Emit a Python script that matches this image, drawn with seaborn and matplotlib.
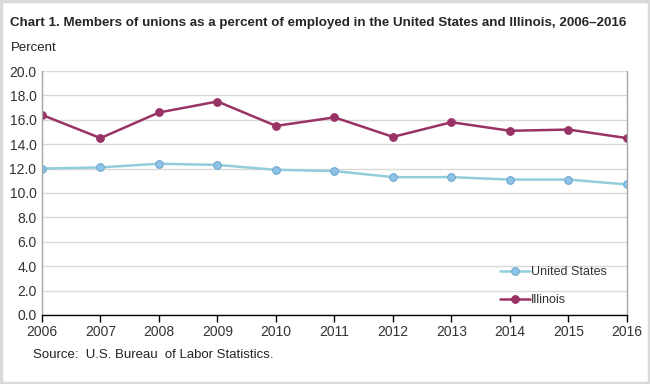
import pandas as pd
import matplotlib.pyplot as plt
import seaborn as sns
from matplotlib.patches import Rectangle

years = [2006, 2007, 2008, 2009, 2010, 2011, 2012, 2013, 2014, 2015, 2016]
us_rate = [12.0, 12.1, 12.4, 12.3, 11.9, 11.8, 11.3, 11.3, 11.1, 11.1, 10.7]
il_rate = [16.4, 14.5, 16.6, 17.5, 15.5, 16.2, 14.6, 15.8, 15.1, 15.2, 14.5]

df = pd.DataFrame({
    "Year": years * 2,
    "Rate": us_rate + il_rate,
    "Area": ["United States"] * len(years) + ["Illinois"] * len(years),
})

sns.set_style("white")
plt.rcParams['font.family'] = ['Liberation Sans', 'DejaVu Sans']

fig = plt.figure(figsize=(6.5, 3.84), dpi=100)
ax = fig.add_axes([0.0646, 0.1797, 0.9, 0.6354])

# outer light grey border
fig.patches.append(Rectangle((0.002, 0.003), 0.996, 0.994, transform=fig.transFigure,
                             fill=False, edgecolor="#d9d9d9", linewidth=2.5))

palette = {"United States": "#92cddc", "Illinois": "#993366"}
marker_face = {"United States": "#8ec3e6", "Illinois": "#993366"}

for area in ["United States", "Illinois"]:
    sub = df[df["Area"] == area]
    sns.lineplot(data=sub, x="Year", y="Rate", ax=ax, color=palette[area],
                 linewidth=1.8, marker="o", markersize=5.5,
                 markerfacecolor=marker_face[area],
                 markeredgecolor="#6fa8d0" if area == "United States" else "#993366",
                 markeredgewidth=0.8, label=area)

ax.set_xlim(2006, 2016)
ax.set_ylim(0, 20)
ax.set_xticks(years)
ax.set_xticklabels([str(y) for y in years])
ax.set_yticks([0, 2, 4, 6, 8, 10, 12, 14, 16, 18, 20])
ax.set_yticklabels([f"{v:.1f}" for v in range(0, 21, 2)])
ax.yaxis.grid(True, color="#d9d9d9", linewidth=1)
ax.set_axisbelow(True)
ax.set_xlabel("")
ax.set_ylabel("")

for s in ["left", "right", "top"]:
    ax.spines[s].set_color("#a6a6a6")
    ax.spines[s].set_linewidth(1)
ax.spines["top"].set_visible(False)
ax.spines["bottom"].set_color("black")
ax.spines["bottom"].set_linewidth(1)

ax.tick_params(axis="x", direction="out", length=5, width=1, color="black",
               labelsize=10, labelcolor="#333333", pad=2, bottom=True)
ax.tick_params(axis="y", length=0, labelsize=10, labelcolor="#333333", pad=4)

leg = ax.legend(loc="lower right", bbox_to_anchor=(0.985, -0.01), frameon=False,
                fontsize=9, handlelength=2.4, handletextpad=0.1,
                labelspacing=1.3, labelcolor="#333333")

fig.text(0.016, 0.94, "Chart 1. Members of unions as a percent of employed in the United States and Illinois, 2006\u20132016",
         fontsize=9.6, fontweight="bold", ha="left", va="center")
fig.text(0.016, 0.875, "Percent", fontsize=9.5, ha="left", va="center", color="#222222")
fig.text(0.051, 0.075, "Source:  U.S. Bureau  of Labor Statistics.", fontsize=9.5,
         ha="left", va="center", color="#222222")

fig.savefig("out.png", dpi=100)
